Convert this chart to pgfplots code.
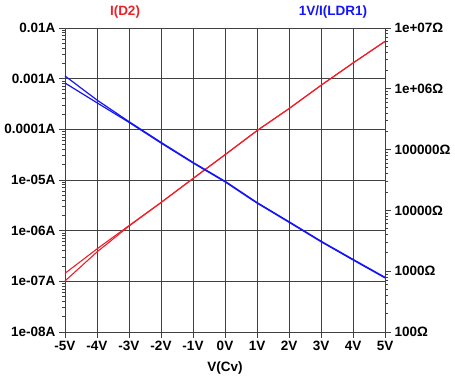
\documentclass[border=0pt]{standalone}
\usepackage{fontspec}
\setmainfont{Liberation Sans}
\usepackage{pgfplots}
\pgfplotsset{compat=1.18}
\definecolor{ltred}{RGB}{238,32,40}
\definecolor{ltblue}{RGB}{20,20,250}
\definecolor{gridc}{RGB}{64,64,64}
\begin{document}
\begin{tikzpicture}
\path[use as bounding box] (-65pt,-49pt) rectangle (390pt,332pt);
\pgfplotsset{every axis/.append style={
  scale only axis, width=320pt, height=304pt,
  xmin=-5, xmax=5, at={(0,0)}, anchor=south west, clip=false,
  tick label style={font=\fontsize{13.5}{15}\selectfont\bfseries},
  label style={font=\fontsize{13.5}{15}\selectfont\bfseries},
  tick style={gridc, line width=0.9pt},
  major tick length=6pt, minor tick length=3pt, tick align=outside,
  axis line style={gridc, line width=0.9pt},
}}
\begin{axis}[
  ymode=log, ymin=1e-8, ymax=1e-2,
  xtick pos=bottom, ytick pos=left,
  xtick={-5,-4,-3,-2,-1,0,1,2,3,4,5},
  xticklabels={-5V,-4V,-3V,-2V,-1V,0V,1V,2V,3V,4V,5V},
  ytick={1e-8,1e-7,1e-6,1e-5,1e-4,1e-3,1e-2},
  yticklabels={1e-08A,1e-07A,1e-06A,1e-05A,0.0001A,0.001A,0.01A},
  xmajorgrids, ymajorgrids,
  major grid style={gridc, line width=0.9pt},
  xlabel={V(Cv)},
  xlabel style={yshift=-4pt},
]
\addplot[ltred, line width=1.1pt] coordinates {
(-5,1.439e-7) (-4,4.365e-7) (-3,1.259e-6) (-2,3.606e-6) (-1,1.072e-5) (0,3.162e-5)
(1,9.462e-5) (2,2.570e-4) (3,7.413e-4) (4,2.042e-3) (5,5.458e-3)};
\addplot[ltred, line width=1.1pt] coordinates {
(-5,1.016e-7) (-4,3.802e-7) (-3,1.230e-6) (-2,3.58e-6) (-1,1.065e-5) (0,3.14e-5)
(1,9.40e-5) (2,2.555e-4) (3,7.37e-4) (4,2.03e-3) (5,5.43e-3)};
\node[text=ltred, font=\fontsize{13.5}{15}\selectfont\bfseries] at (rel axis cs:0.1875,1.053) {I(D2)};
\node[text=ltblue, font=\fontsize{13.5}{15}\selectfont\bfseries] at (rel axis cs:0.8375,1.053) {1V/I(LDR1)};
\end{axis}
\begin{axis}[
  ymode=log, ymin=100, ymax=1e7,
  axis x line=none, axis y line*=right,
  ytick={100,1000,10000,100000,1e6,1e7},
  yticklabels={100Ω,1000Ω,10000Ω,100000Ω,1e+06Ω,1e+07Ω},
]
\addplot[ltblue, line width=1.2pt] coordinates {
(-5,1.626e6) (-4,6.53e5) (-3,2.884e5) (-2,1.318e5) (-1,6.166e4) (0,3.020e4)
(1,1.349e4) (2,6.531e3) (3,3.126e3) (4,1.567e3) (5,794)};
\addplot[ltblue, line width=1.2pt] coordinates {
(-5,1.245e6) (-4,5.888e5) (-3,2.805e5) (-2,1.282e5) (-1,6.026e4) (0,2.951e4)
(1,1.318e4) (2,6.383e3) (3,3.055e3) (4,1.531e3) (5,776)};
\end{axis}
\end{tikzpicture}
\end{document}
